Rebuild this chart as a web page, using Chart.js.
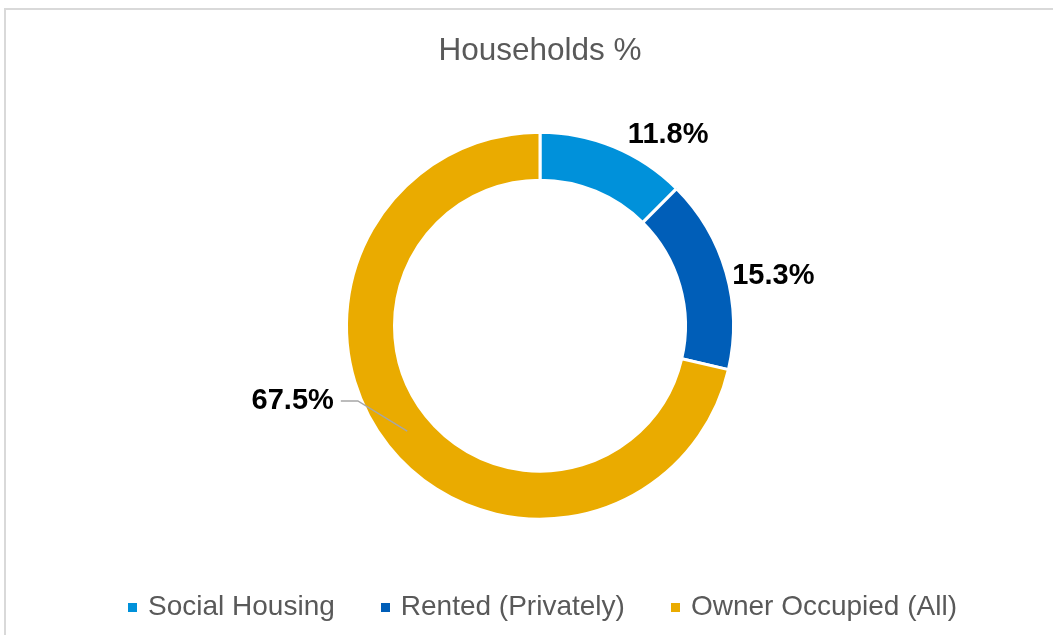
<!DOCTYPE html>
<html>
<head>
<meta charset="utf-8">
<script src="https://cdn.jsdelivr.net/npm/chart.js@4.4.1/dist/chart.umd.min.js"></script>
<style>
  html, body { margin: 0; padding: 0; background: #fff; overflow: hidden; width: 1053px; height: 635px; }
  #frame { position: absolute; left: 4px; top: 8px; border-left: 2px solid #d9d9d9; border-top: 2px solid #d9d9d9; }
  canvas { display: block; }
</style>
</head>
<body>
<div id="frame"><canvas id="chartHouseholds" width="1068" height="660"></canvas></div>
<script>
// Dados do gráfico
const categorias = ['Social Housing', 'Rented (Privately)', 'Owner Occupied (All)'];
const valores = [11.8, 15.3, 67.5];
const cores = ['#0091DA', '#005EB8', '#EAAB00'];
const rotulos = ['11.8%', '15.3%', '67.5%'];

// Posição dos rótulos: deslocamento angular (graus) e distância além do raio externo
const rotuloAngulo = [11.5, 4, 21.5];
const rotuloDistancia = [36, 45, 65];
const rotuloLinha = [false, false, true];

// Marcadores quadrados da legenda
function quadrado(cor) {
  const c = document.createElement('canvas');
  c.width = 9; c.height = 9;
  const g = c.getContext('2d');
  g.fillStyle = cor;
  g.fillRect(0, 0, 9, 9);
  return c;
}

// Plugin para desenhar os rótulos de dados
const pluginRotulos = {
  id: 'rotulos',
  afterLayout(chart) {
    // pequeno deslocamento horizontal da legenda
    if (chart.legend) {
      chart.legend.left += 4;
      chart.legend.right += 4;
    }
  },
  afterDatasetsDraw(chart) {
    const ctx = chart.ctx;
    const meta = chart.getDatasetMeta(0);
    ctx.save();
    ctx.font = 'bold 29px "Liberation Sans", Arial, sans-serif';
    ctx.fillStyle = '#000';
    ctx.textAlign = 'center';
    ctx.textBaseline = 'middle';
    meta.data.forEach((arc, i) => {
      const p = arc.getProps(['x', 'y', 'startAngle', 'endAngle', 'innerRadius', 'outerRadius'], true);
      const meio = (p.startAngle + p.endAngle) / 2;
      const ang = meio + rotuloAngulo[i] * Math.PI / 180;
      const r = p.outerRadius + rotuloDistancia[i];
      const tx = p.x + r * Math.cos(ang);
      const ty = p.y + r * Math.sin(ang);
      ctx.fillText(rotulos[i], tx, ty);
      if (rotuloLinha[i]) {
        const w = ctx.measureText(rotulos[i]).width;
        const rm = (p.innerRadius + p.outerRadius) / 2;
        const ax = p.x + rm * Math.cos(meio);
        const ay = p.y + rm * Math.sin(meio);
        const x0 = tx + w / 2 + 7;
        ctx.strokeStyle = '#a6a6a6';
        ctx.lineWidth = 1.5;
        ctx.beginPath();
        ctx.moveTo(x0, ty);
        ctx.lineTo(x0 + 17, ty);
        ctx.lineTo(ax, ay);
        ctx.stroke();
      }
    });
    ctx.restore();
  }
};

const ctx = document.getElementById('chartHouseholds').getContext('2d');
const chartHouseholds = new Chart(ctx, {
  type: 'doughnut',
  data: {
    labels: categorias,
    datasets: [{
      data: valores,
      backgroundColor: cores,
      borderColor: '#ffffff',
      borderWidth: 3,
      radius: 193.5,
      cutout: '75.2%'
    }]
  },
  options: {
    responsive: false,
    animation: false,
    layout: { padding: { bottom: 39 } },
    plugins: {
      title: {
        display: true,
        text: 'Households %',
        color: '#595959',
        font: { family: '"Liberation Sans", Arial, sans-serif', size: 31.5, weight: 'normal', lineHeight: 1.2 },
        padding: { top: 22, bottom: 37.5 }
      },
      legend: {
        position: 'bottom',
        labels: {
          color: '#595959',
          font: { family: '"Liberation Sans", Arial, sans-serif', size: 28 },
          padding: 49,
          usePointStyle: true,
          pointStyleWidth: 3,
          boxHeight: 9,
          generateLabels(chart) {
            return categorias.map((nome, i) => ({
              text: nome,
              fillStyle: cores[i],
              strokeStyle: cores[i],
              fontColor: '#595959',
              lineWidth: 0,
              pointStyle: quadrado(cores[i]),
              hidden: false,
              index: i,
              datasetIndex: 0
            }));
          }
        }
      },
      tooltip: { enabled: false }
    }
  },
  plugins: [pluginRotulos]
});
</script>
</body>
</html>
